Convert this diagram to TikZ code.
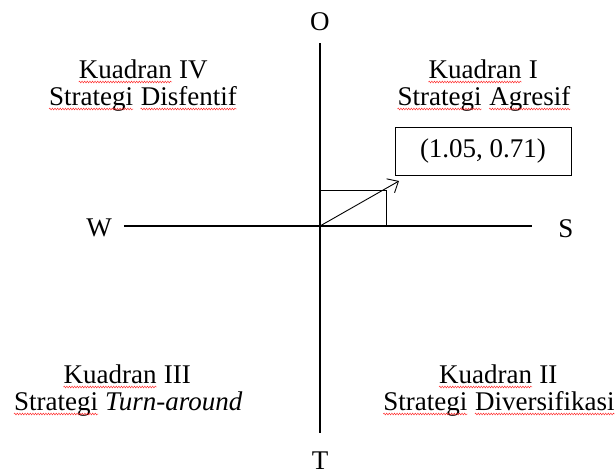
\documentclass[tikz,border=0pt]{standalone}
\usepackage{fontspec}
\setmainfont{Liberation Serif}
\usetikzlibrary{arrows.meta, decorations.pathmorphing}
\newcommand\squig[1]{\tikz[baseline=(w.base)]{\node[inner sep=0pt, anchor=base] (w) {#1};
  \draw[red!85!white, line width=0.45pt, decorate, decoration={snake, amplitude=0.9pt, segment length=2.6pt}]
    ([yshift=-4pt]w.base west) -- ([yshift=-4pt]w.base east);}}

\begin{document}
\begin{tikzpicture}[x=1pt, y=1pt, line width=1.2pt]

  \tikzstyle{T}=[font=\fontsize{27}{29}\selectfont, anchor=base, inner sep=0pt]
  \tikzstyle{B}=[draw, line width=0.8pt, minimum width=176pt, minimum height=48pt, font=\fontsize{27}{29}\selectfont]

  \useasboundingbox (-320,-249) rectangle (296,226);

  % axes
  \coordinate (top) at (0,183);
  \coordinate (bottom) at (0,-207);
  \coordinate (left) at (-196,0);
  \coordinate (right) at (212,0);
  \coordinate (origin) at (0,0);
  \coordinate (tip) at (79,45);

  \draw [] (top) to (bottom);
  \draw [] (left) to (right);

  \node[T] at (0,196) (O) {O};
  \node[T] at (0,-243) (Tn) {T};
  \node[T] at (-221,-10) (W) {W};
  \node[T] at (246,-11) (S) {S};

  % quadrants
  \node[T] at (-177,148) (kIV) {\squig{Kuadran} IV};
  \node[T] at (-177,121) (sIV) {\squig{Strategi} \squig{Disfentif}};
  \node[T] at (163,148) (kI) {\squig{Kuadran} I};
  \node[T] at (164,121) (sI) {\squig{Strategi} \squig{Agresif}};
  \node[T] at (-193,-157) (kIII) {\squig{Kuadran} III};
  \node[T] at (-192,-184) (sIII) {\squig{Strategi} \textit{Turn-around}};
  \node[T] at (178,-157) (kII) {\squig{Kuadran} II};
  \node[T] at (179,-184) (sII) {\squig{Strategi} \squig{Diversifikasi}};

  % position
  \node[B] at (163,75) (point) {(1.05, 0.71)};
  \draw [line width=0.9pt] (origin) rectangle (66,36);
  \draw [line width=0.9pt, -{Straight Barb[length=9pt, width=16pt]}] (origin) to (tip);

\end{tikzpicture}
\end{document}
